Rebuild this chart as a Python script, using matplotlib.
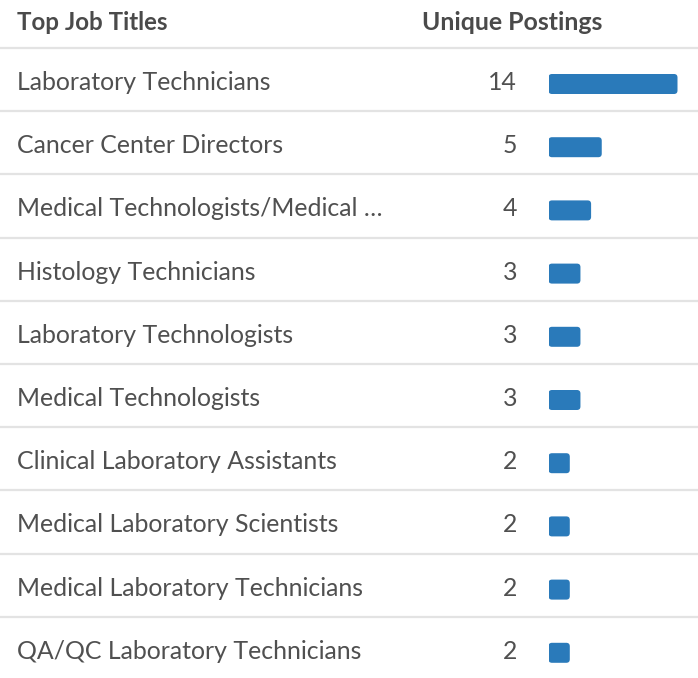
import matplotlib
matplotlib.use("Agg")
import matplotlib.pyplot as plt
from matplotlib.patches import FancyBboxPatch

titles = [
    "Laboratory Technicians",
    "Cancer Center Directors",
    "Medical Technologists/Medical …",
    "Histology Technicians",
    "Laboratory Technologists",
    "Medical Technologists",
    "Clinical Laboratory Assistants",
    "Medical Laboratory Scientists",
    "Medical Laboratory Technicians",
    "QA/QC Laboratory Technicians",
]
postings = [14, 5, 4, 3, 3, 3, 2, 2, 2, 2]
header_left = "Top Job Titles"
header_right = "Unique Postings"

W, H = 698, 678
fig = plt.figure(figsize=(W / 100, H / 100), dpi=100)
plt.rcParams['font.family'] = ['Lato', 'DejaVu Sans']

ax = fig.add_axes([0, 0, 1, 1])
ax.set_xlim(0, W)
ax.set_ylim(H, 0)
ax.axis('off')

txt_col = '#505050'
head_col = '#4a4a4a'
line_col = '#e3e3e3'
bar_col = '#2a7aba'

row_h = 63.2
first_line = 48

ax.text(17, 22, header_left, fontsize=17.4, fontweight='bold', color=head_col,
        va='center', ha='left')
ax.text(422.5, 22, header_right, fontsize=17.9, fontweight='bold', color=head_col,
        va='center', ha='left')

for i in range(len(titles)):
    y_line = first_line + i * row_h
    ax.plot([0, W], [y_line, y_line], color=line_col, lw=1.6, solid_capstyle='butt')

for i, (t, v) in enumerate(zip(titles, postings)):
    yc = first_line + i * row_h + 34.5
    ax.text(17, yc, t, fontsize=17.9, color=txt_col, va='center', ha='left')
    ax.text(517, yc, str(v), fontsize=17.9, color=txt_col, va='center', ha='right')

# bar column
px_per_unit = 10.65
bx0 = 548.5
bw_px = W - bx0
bax = fig.add_axes([bx0 / W, 0, bw_px / W, 1])
bax.set_xlim(0, bw_px / px_per_unit)
bax.set_ylim(H, 0)
bax.axis('off')
cap = 129 / px_per_unit
bar_h = 20
r_px = 3.5
for i, v in enumerate(postings):
    yc = first_line + i * row_h + 36
    w = min(v, cap)
    p = FancyBboxPatch((0, yc - bar_h / 2), w, bar_h,
                       boxstyle=f"round,pad=0,rounding_size={r_px / px_per_unit}",
                       mutation_aspect=px_per_unit,
                       facecolor=bar_col, edgecolor='none')
    bax.add_patch(p)

fig.savefig("out.png", dpi=100)
